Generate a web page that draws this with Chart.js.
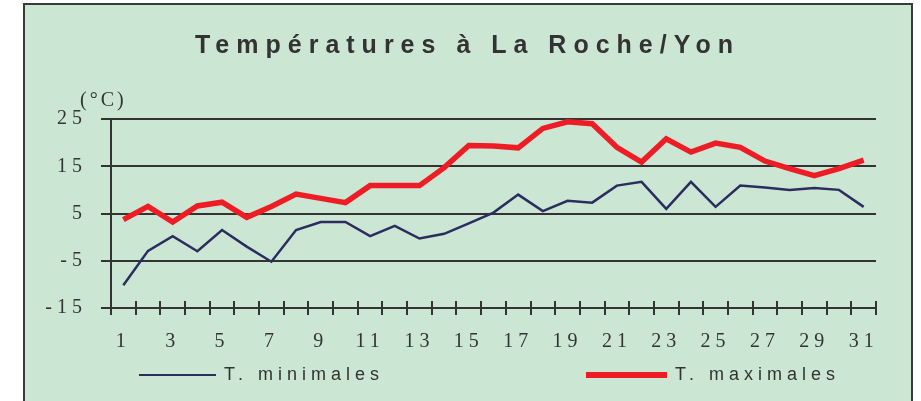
<!DOCTYPE html>
<html>
<head>
<meta charset="utf-8">
<script src="https://cdn.jsdelivr.net/npm/chart.js@4/dist/chart.umd.min.js"></script>
<style>
    body { margin: 0; background: #fff; }
    #frame {
        position: absolute; left: 23px; top: 3px; width: 886px; height: 430px;
        border: 2px solid #3a3a3a; background: #cce6d4;
    }
    #wrap { position: absolute; left: 0; top: 0; width: 921px; height: 401px; }
    .leg { position: absolute; top: 364px; height: 22px; }
    .leg .line { position: absolute; top: 11px; }
    .leg .txt {
        position: absolute; top: 0; line-height: 22px; white-space: nowrap;
        font: 18px "Liberation Sans", Arial, sans-serif; letter-spacing: 5px; color: #333;
    }
</style>
</head>
<body>
<div id="frame"></div>
<div id="wrap"><canvas id="chart" width="921" height="401"></canvas></div>
<div id="legend"></div>
<script>
// Days of the month
const days = ['1', '2', '3', '4', '5', '6', '7', '8', '9', '10', '11', '12', '13', '14', '15', '16',
              '17', '18', '19', '20', '21', '22', '23', '24', '25', '26', '27', '28', '29', '30', '31'];

// Minimum temperatures (°C)
const tMin = [-10.2, -2.9, 0.2, -3.0, 1.5, -2.0, -5.2, 1.5, 3.2, 3.2, 0.2, 2.4, -0.3, 0.7, 2.9, 5.2,
              9.0, 5.5, 7.7, 7.3, 10.9, 11.7, 6.0, 11.7, 6.4, 10.9, 10.5, 10.0, 10.4, 10.0, 6.4];

// Maximum temperatures (°C)
const tMax = [3.7, 6.5, 3.2, 6.6, 7.4, 4.2, 6.5, 9.1, 8.2, 7.3, 10.9, 10.9, 10.9, 14.7, 19.4, 19.3,
              18.9, 23.0, 24.4, 24.0, 19.0, 15.9, 20.8, 18.0, 19.9, 19.0, 16.1, 14.5, 13.0, 14.5, 16.3];

// Y axis tick values
const yTicks = [-15, -5, 5, 15, 25];

const INK = '#333333';

// Wrap a draw/update method so its text gets letter spacing
function spaced(obj, name, px) {
    if (!obj || obj[name].__spaced) return;
    const orig = obj[name];
    const f = function(...args) {
        const ctx = this.ctx;
        const prev = ctx.letterSpacing;
        ctx.letterSpacing = px;
        try { return orig.apply(this, args); } finally { ctx.letterSpacing = prev; }
    };
    f.__spaced = true;
    obj[name] = f;
}

const spacingPlugin = {
    id: 'spacing',
    beforeLayout(chart) {
        spaced(chart.titleBlock, 'draw', '7px');
        ['x', 'y'].forEach(id => {
            spaced(chart.scales[id], 'update', '5px');
            spaced(chart.scales[id], 'draw', '5px');
        });
        // let the y labels run past the narrow axis box
        chart.scales.y._computeLabelArea = () => undefined;
    }
};

// Tick marks above the x axis and the unit label
const extrasPlugin = {
    id: 'extras',
    afterDraw(chart) {
        const {ctx, chartArea} = chart;
        const xs = chart.scales.x;
        ctx.save();
        ctx.strokeStyle = INK;
        ctx.lineWidth = 2;
        ctx.beginPath();
        for (let i = 0; i <= days.length; i++) {
            const x = Math.round(xs.getPixelForValue(i - 0.5));
            ctx.moveTo(x, chartArea.bottom - 7);
            ctx.lineTo(x, chartArea.bottom);
        }
        ctx.stroke();

        ctx.letterSpacing = '3px';
        ctx.fillStyle = INK;
        ctx.font = '20px "Liberation Serif", serif';
        ctx.textBaseline = 'middle';
        ctx.textAlign = 'left';
        ctx.fillText('(°C)', chartArea.left - 31, chartArea.top - 18);
        ctx.restore();
    }
};

const ctx = document.getElementById('chart').getContext('2d');
const chart = new Chart(ctx, {
    type: 'line',
    data: {
        labels: days,
        datasets: [{
            label: 'T. minimales',
            data: tMin,
            borderColor: '#2b2d5e',
            backgroundColor: '#2b2d5e',
            borderWidth: 2.5,
            pointRadius: 0,
            tension: 0
        }, {
            label: 'T. maximales',
            data: tMax,
            borderColor: '#ee1c25',
            backgroundColor: '#ee1c25',
            borderWidth: 5.5,
            pointRadius: 0,
            tension: 0
        }]
    },
    options: {
        responsive: false,
        animation: false,
        layout: { padding: { top: 0, left: 59, right: 45, bottom: 45 } },
        plugins: {
            legend: { display: false },
            tooltip: { enabled: false },
            title: {
                display: true,
                text: 'Températures à La Roche/Yon',
                color: INK,
                font: { family: '"Liberation Sans", Arial, sans-serif', size: 25, weight: 'bold' },
                padding: { top: 31, bottom: 58 }
            }
        },
        scales: {
            x: {
                offset: true,
                grid: { offset: true, drawOnChartArea: false, color: INK, lineWidth: 2, tickLength: 7 },
                border: { color: INK, width: 2 },
                ticks: {
                    autoSkip: false, maxRotation: 0, padding: 15, color: INK,
                    font: { family: '"Liberation Serif", serif', size: 20 },
                    callback: (val, i) => (i % 2 === 0 ? days[i] : '')
                },
                afterFit: s => { s.height = 48; }
            },
            y: {
                min: -15,
                max: 25,
                afterBuildTicks: s => { s.ticks = yTicks.map(v => ({ value: v })); },
                grid: { color: INK, lineWidth: 2, tickLength: 10 },
                border: { color: INK, width: 2 },
                ticks: {
                    padding: 14, color: INK,
                    font: { family: '"Liberation Serif", serif', size: 20 }
                },
                afterFit: s => { s.width = 52; }
            }
        }
    },
    plugins: [spacingPlugin, extrasPlugin]
});

// HTML legend built from the datasets
const legendPos = [{ left: 139, w: 77 }, { left: 586, w: 81 }];
const legendDiv = document.getElementById('legend');
chart.data.datasets.forEach((ds, i) => {
    const item = document.createElement('div');
    item.className = 'leg';
    item.style.left = legendPos[i].left + 'px';
    const line = document.createElement('div');
    line.className = 'line';
    line.style.width = legendPos[i].w + 'px';
    line.style.height = ds.borderWidth + 'px';
    line.style.marginTop = (-ds.borderWidth / 2) + 'px';
    line.style.background = ds.borderColor;
    const txt = document.createElement('div');
    txt.className = 'txt';
    txt.style.left = (legendPos[i].w + 8) + 'px';
    txt.textContent = ds.label;
    item.appendChild(line);
    item.appendChild(txt);
    legendDiv.appendChild(item);
});
</script>
</body>
</html>
